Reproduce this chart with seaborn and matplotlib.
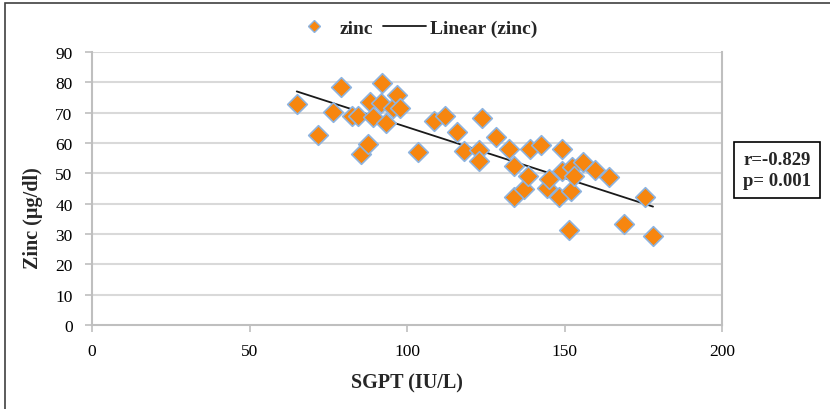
import matplotlib
matplotlib.use("Agg")
import matplotlib.pyplot as plt
import seaborn as sns
import numpy as np
import pandas as pd
from matplotlib.lines import Line2D
from matplotlib.patches import Rectangle

sgpt = [65.0, 71.6, 76.4, 79.2, 82.4, 84.6, 85.3, 87.5, 88.1, 89.1, 92.2, 91.9,
        93.2, 95.4, 96.7, 97.9, 103.6, 108.7, 112.2, 116.0, 118.2, 122.7, 123.0,
        123.9, 128.4, 132.5, 134.1, 134.1, 137.2, 138.5, 139.1, 142.6, 144.5,
        145.2, 148.3, 149.3, 149.3, 151.5, 152.1, 152.5, 153.1, 155.9, 159.7,
        164.2, 168.9, 175.6, 178.1]
zinc = [72.9, 62.6, 70.2, 78.5, 68.9, 68.9, 56.4, 59.7, 73.5, 68.6, 79.8, 73.2,
        66.6, 71.5, 75.8, 71.5, 57.0, 67.3, 68.9, 63.6, 57.4, 57.7, 54.1,
        68.2, 62.0, 58.0, 52.4, 42.2, 44.8, 49.1, 58.0, 59.3, 45.2,
        48.1, 42.2, 58.0, 50.8, 31.3, 44.2, 52.1, 49.1, 53.7, 51.1,
        48.8, 33.3, 42.2, 29.2]
x_ticks = [0, 50, 100, 150, 200]
y_ticks = [0, 10, 20, 30, 40, 50, 60, 70, 80, 90]
stats_text = "r=-0.829\np= 0.001"

df = pd.DataFrame({"SGPT": sgpt, "zinc": zinc})

sns.set_theme(style="white")
plt.rcParams["font.family"] = ["Liberation Serif", "DejaVu Serif"]

fig = plt.figure(figsize=(8.3, 4.1), dpi=100)
ax = fig.add_axes([92/830, 1-326/410, (722-92)/830, (326-53)/410])

grid_c = "#D9D9D9"
spine_c = "#BFBFBF"
orange = "#F7860F"
edge = "#8DB3DF"

for yv in y_ticks[1:]:
    ax.axhline(yv, color=grid_c, lw=1.5, zorder=0)

sns.regplot(data=df, x="SGPT", y="zinc", ax=ax, ci=None, truncate=True,
            scatter=False, line_kws=dict(color="#1a1a1a", lw=1.3, zorder=2))
sns.scatterplot(data=df, x="SGPT", y="zinc", ax=ax, marker="D", s=100,
                color=orange, edgecolor=edge, linewidth=1.2, zorder=3)

ax.set_xlim(0, 200)
ax.set_ylim(0, 90)
ax.set_xticks(x_ticks)
ax.set_yticks(y_ticks)
ax.tick_params(axis="both", labelsize=12.5, colors="#000000", length=5,
               width=1.2, direction="out")
ax.tick_params(axis="x", pad=8)
ax.tick_params(axis="y", pad=9)
ax.tick_params(axis="both", color=spine_c)
ax.yaxis.set_ticks_position("left")
ax.xaxis.set_ticks_position("bottom")
for s in ["left", "bottom", "right"]:
    ax.spines[s].set_color(spine_c)
    ax.spines[s].set_linewidth(1.5)
ax.spines["top"].set_visible(False)

ax.set_xlabel("SGPT (IU/L)", fontsize=14.5, fontweight="bold")
ax.set_ylabel("Zinc (µg/dl)", fontsize=14.5, fontweight="bold")
ax.xaxis.set_label_coords((407-92)/630, -(383-326)/273)
ax.yaxis.set_label_coords(-(92-33)/630, (326-218)/273)
ax.xaxis.label.set_va("center")
ax.yaxis.label.set_va("center")

handles = [Line2D([], [], marker="D", ls="none", color=orange, markeredgecolor=edge,
                  markersize=6.5, label="zinc"),
           Line2D([], [], color="#1a1a1a", lw=1.3, label="Linear (zinc)")]
fig.legend(handles=handles, loc="center", bbox_to_anchor=(415/830, 1-29/410),
           ncol=2, frameon=False, prop=dict(size=14, weight="bold"),
           handlelength=2.2, columnspacing=0.5, handletextpad=0.2)

fig.text(777/830, 1-171/410, stats_text, ha="center", va="center",
         fontsize=13.5, fontweight="bold", linespacing=1.25,
         bbox=dict(boxstyle="square,pad=0.5", fc="white", ec="#000000", lw=1.2))

fig.patches.append(Rectangle((5/830, -0.05), 1.05, 1-4/410+0.05,
                             transform=fig.transFigure, fill=False,
                             ec="#404040", lw=1.2))

fig.savefig("out.png", dpi=100)
